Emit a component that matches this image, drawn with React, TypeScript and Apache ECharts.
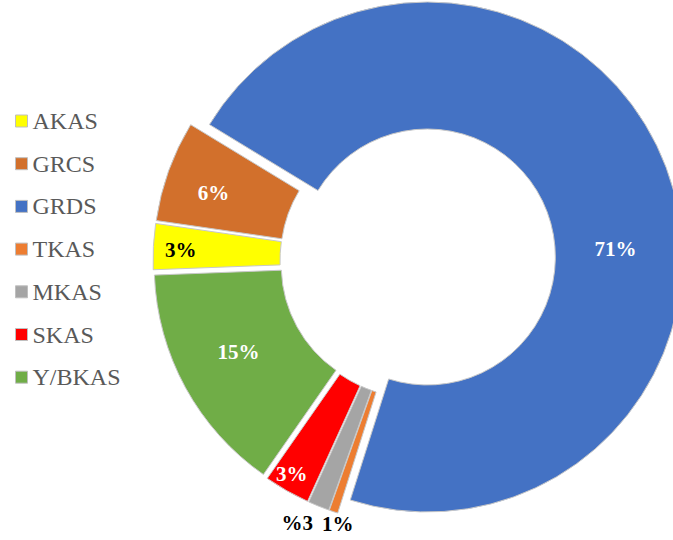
import React, { useEffect, useRef } from "react";
import * as echarts from "echarts";

const categories = ["AKAS", "GRCS", "GRDS", "TKAS", "MKAS", "SKAS", "Y/BKAS"];
const shares = [2.9, 6.4, 71.2, 0.55, 1.35, 2.9, 14.7];
const shareLabels = ["3%", "6%", "71%", "1%", "%3", "3%", "15%"];
const sliceColors = ["#FFFF00", "#D2702C", "#4472C4", "#ED7D31", "#A5A5A5", "#FF0000", "#70AD47"];
const labelColors = ["#000000", "#FFFFFF", "#FFFFFF", "#000000", "#000000", "#FFFFFF", "#FFFFFF"];
const labelNudges = [
  [-33, 0],
  [-12, 2],
  [6, 60],
  [-15, 70],
  [-44, 73],
  [-25, 36],
  [0, -7],
];

export default function App() {
  const ref = useRef<HTMLDivElement>(null);
  useEffect(() => {
    if (!ref.current) return;
    const chart = echarts.init(ref.current, undefined, { renderer: "svg" });
    const data = categories.map((name, i) => ({
      name,
      value: shares[i],
      selected: true,
      itemStyle: { color: sliceColors[i] },
      label: { color: labelColors[i] },
    }));
    chart.setOption({
      animation: false,
      backgroundColor: "#ffffff",
      legend: {
        orient: "vertical",
        left: 10,
        top: 104,
        itemWidth: 12,
        itemHeight: 12,
        itemGap: 18.7,
        itemTextGap: 6,
        icon: "rect",
        selectedMode: false,
        textStyle: {
          fontFamily: "Liberation Serif",
          fontSize: 24,
          color: "#595959",
          lineHeight: 24,
          padding: [0, 0, 0, 0],
        },
        itemStyle: { borderColor: "#BFBFBF", borderWidth: 1 },
        data: categories,
      },
      series: [
        {
          type: "pie",
          center: [418, 260.5],
          radius: [128, 255],
          startAngle: 182.2,
          clockwise: true,
          selectedMode: "multiple",
          selectedOffset: 10,
          avoidLabelOverlap: false,
          itemStyle: { borderColor: "#C8C8C8", borderWidth: 1 },
          emphasis: { disabled: true },
          label: {
            show: true,
            position: "inside",
            fontFamily: "Liberation Serif",
            fontWeight: "bold",
            fontSize: 21,
            formatter: (p: any) => shareLabels[p.dataIndex],
          },
          labelLine: { show: false },
          labelLayout: (p: any) => ({
            dx: labelNudges[p.dataIndex][0],
            dy: labelNudges[p.dataIndex][1],
          }),
          data,
        },
      ],
    });
    return () => chart.dispose();
  }, []);
  return (
    <div
      ref={ref}
      style={{ position: "absolute", left: 0, top: 0, width: 673, height: 540 }}
    />
  );
}
